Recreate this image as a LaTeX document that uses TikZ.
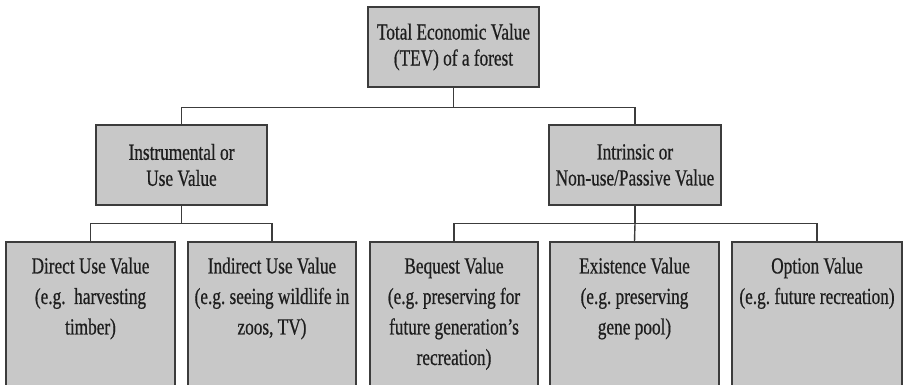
\documentclass[tikz,border=0pt]{standalone}
\usepackage{fontspec}
\setmainfont{Liberation Serif}[FakeStretch=0.75, FakeBold=0.6]
\frenchspacing
\definecolor{boxfill}{RGB}{200,200,200}
\definecolor{boxline}{RGB}{60,60,60}
\definecolor{txt}{RGB}{30,30,30}
\begin{document}
\begin{tikzpicture}[x=1pt,y=1pt,
  box/.style={draw=boxline, fill=boxfill, line width=1.4pt, rectangle, inner sep=0pt},
  upper/.style={box, minimum height=80pt, align=center, text=txt,
    font=\fontsize{23}{26}\selectfont},
  lower/.style={box, minimum height=152pt},
  lowertext/.style={anchor=north, inner sep=0pt, align=center, text=txt,
    font=\fontsize{23}{30.5}\selectfont},
  conn/.style={draw=boxline, line width=1.4pt}]
\clip (0,0) rectangle (903,384);
\fill[white] (0,0) rectangle (903,384);
% level 0
\node[upper, minimum width=171pt] (tev) at (453.5,337) {Total Economic Value\\(TEV) of a forest};
% level 1
\node[upper, minimum width=171pt] (inst) at (181.5,219) {Instrumental or\\Use Value};
\node[upper, minimum width=172pt] (intr) at (635,219) {Intrinsic or\\Non-use/Passive Value};
% level 2 boxes
\node[lower, minimum width=169pt] (dir) at (90.5,66) {};
\node[lower, minimum width=168pt] (ind) at (272,66) {};
\node[lower, minimum width=168pt] (beq) at (454,66) {};
\node[lower, minimum width=169pt] (exi) at (634.5,66) {};
\node[lower, minimum width=170pt] (opt) at (817,66) {};
% level 2 texts
\node[lowertext] (dirt) at ([yshift=-16pt]dir.north) {Direct Use Value\\(e.g.\ \ harvesting\\timber)};
\node[lowertext] (indt) at ([yshift=-16pt]ind.north) {Indirect Use Value\\(e.g. seeing wildlife in\\zoos, TV)};
\node[lowertext] (beqt) at ([yshift=-16pt]beq.north) {Bequest Value\\(e.g. preserving for\\future generation's\\recreation)};
\node[lowertext] (exit) at ([yshift=-16pt]exi.north) {Existence Value\\(e.g. preserving\\gene pool)};
\node[lowertext] (optt) at ([yshift=-16pt]opt.north) {Option Value\\(e.g. future recreation)};
% connectors
\draw[conn] (tev.south) -- ++(0,-20) -| (inst.north);
\draw[conn] (tev.south) -- ++(0,-20) -| (intr.north);
\draw[conn] (inst.south) -- ++(0,-18) -| (dir.north);
\draw[conn] (inst.south) -- ++(0,-18) -| (ind.north);
\draw[conn] (intr.south) -- ++(0,-18) -| (beq.north);
\draw[conn] (intr.south) -- ++(0,-18) -- (exi.north);
\draw[conn] (intr.south) -- ++(0,-18) -| (opt.north);
\end{tikzpicture}
\end{document}
